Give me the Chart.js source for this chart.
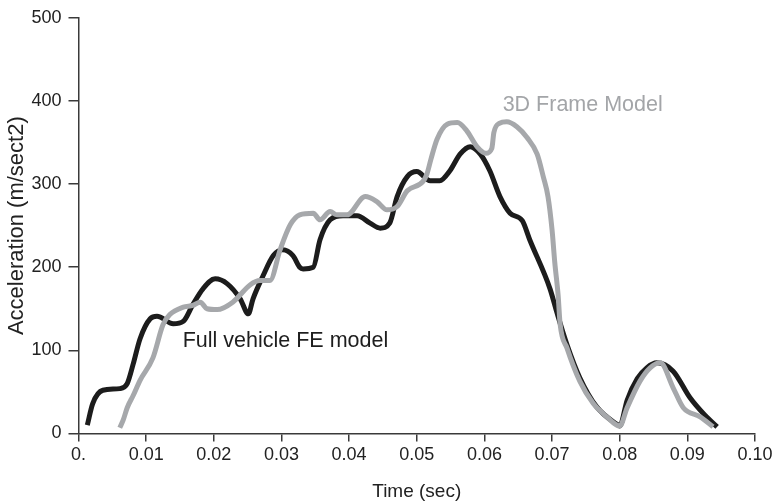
<!DOCTYPE html>
<html>
<head>
<meta charset="utf-8">
<script src="https://cdn.jsdelivr.net/npm/chart.js@4"></script>
<style>
  html, body { margin: 0; padding: 0; background: #fff; }
  #wrap { width: 780px; height: 503px; }
</style>
</head>
<body>
<div id="wrap"><canvas id="c" width="780" height="503"></canvas></div>
<script>
// Full vehicle FE model: time (s) and acceleration (m/s^2)
const fullTime = [0.0013, 0.0021, 0.0036, 0.0061, 0.0072, 0.0081, 0.0091, 0.0106, 0.0116, 0.0140, 0.0155,
  0.0169, 0.0184, 0.0202, 0.0220, 0.0239, 0.0251, 0.0258, 0.0273, 0.0288, 0.0302, 0.0317, 0.0327,
  0.0332, 0.0347, 0.0357, 0.0372, 0.0391, 0.0412, 0.0431, 0.0446, 0.0460, 0.0471, 0.0486, 0.0500,
  0.0520, 0.0534, 0.0549, 0.0564, 0.0579, 0.0594, 0.0608, 0.0623, 0.0638, 0.0656, 0.0667, 0.0697,
  0.0707, 0.0722, 0.0741, 0.0766, 0.0796, 0.0800, 0.0811, 0.0826, 0.0840, 0.0855, 0.0879, 0.0904,
  0.0926, 0.0944];
const fullAccel = [10, 36, 52, 54, 60, 84, 114, 138, 141, 132, 135,
  155, 174, 186, 180, 162, 144, 162, 190, 214, 221, 214, 200,
  198, 200, 233, 257, 262, 262, 253, 247, 253, 285, 309, 315,
  304, 304, 316, 336, 345, 336, 316, 285, 265, 256, 233, 174,
  146, 107, 67, 32, 11, 9, 40, 66, 79, 85, 75, 43,
  22, 8];

// 3D Frame Model: time (s) and acceleration (m/s^2)
const frameTime = [0.0061, 0.0066, 0.0072, 0.0081, 0.0091, 0.0110, 0.0125, 0.0135, 0.0155, 0.0169, 0.0180,
  0.0190, 0.0205, 0.0228, 0.0254, 0.0268, 0.0283, 0.0298, 0.0313, 0.0327, 0.0347, 0.0357, 0.0372,
  0.0382, 0.0397, 0.0424, 0.0441, 0.0456, 0.0471, 0.0486, 0.0509, 0.0515, 0.0521, 0.0530, 0.0545,
  0.0560, 0.0574, 0.0589, 0.0602, 0.0611, 0.0614, 0.0622, 0.0633, 0.0648, 0.0663, 0.0678, 0.0687,
  0.0694, 0.0700, 0.0704, 0.0709, 0.0712, 0.0722, 0.0741, 0.0761, 0.0781, 0.0800, 0.0811, 0.0830,
  0.0845, 0.0860, 0.0879, 0.0894, 0.0919, 0.0938];
const frameAccel = [7, 16, 31, 46, 64, 91, 131, 143, 152, 154, 158,
  150, 149, 158, 179, 184, 184, 221, 251, 263, 265, 257, 267,
  263, 263, 285, 279, 269, 273, 292, 303, 312, 330, 354, 372,
  374, 364, 345, 337, 343, 362, 373, 375, 369, 356, 336, 309,
  285, 245, 206, 166, 131, 103, 63, 36, 20, 9, 31, 63,
  79, 85, 55, 31, 20, 8];

// Axis ticks
const xTickValues = [0, 0.01, 0.02, 0.03, 0.04, 0.05, 0.06, 0.07, 0.08, 0.09, 0.10];
const xTickLabels = ['0.', '0.01', '0.02', '0.03', '0.04', '0.05', '0.06', '0.07', '0.08', '0.09', '0.10'];
const yTickValues = [0, 100, 200, 300, 400, 500];
const yTickLabels = ['0', '100', '200', '300', '400', '500'];

// In-plot series labels (anchored in data units)
const seriesLabels = [
  { text: 'Full vehicle FE model', x: 0.0154, y: 111, color: '#1e1e1e' },
  { text: '3D Frame Model', x: 0.0627, y: 395, color: '#a3a5a8' }
];
const yTitle = 'Acceleration (m/sect2)';

const toPoints = (xs, ys) => xs.map((x, i) => ({ x, y: ys[i] }));

const FONT = '"Liberation Sans", Arial, Helvetica, sans-serif';
const AXIS = '#3a3a3a';

const labelPlugin = {
  id: 'seriesLabels',
  afterDatasetsDraw(chart) {
    const { ctx, scales } = chart;
    ctx.save();
    ctx.font = '21.5px ' + FONT;
    ctx.textBaseline = 'middle';
    ctx.textAlign = 'left';
    seriesLabels.forEach(l => {
      ctx.fillStyle = l.color;
      ctx.fillText(l.text, scales.x.getPixelForValue(l.x), scales.y.getPixelForValue(l.y));
    });
    ctx.restore();
  }
};

// Vertical axis title, centred on the plot height
const yTitlePlugin = {
  id: 'yTitle',
  afterDraw(chart) {
    const { ctx, chartArea } = chart;
    ctx.save();
    ctx.translate(17, (chartArea.top + chartArea.bottom) / 2);
    ctx.rotate(-Math.PI / 2);
    ctx.font = '22px ' + FONT;
    ctx.fillStyle = '#222';
    ctx.textAlign = 'center';
    ctx.textBaseline = 'middle';
    ctx.fillText(yTitle, 0, 0);
    ctx.restore();
  }
};

new Chart(document.getElementById('c'), {
  type: 'line',
  data: {
    datasets: [
      {
        label: 'Full vehicle FE model',
        data: toPoints(fullTime, fullAccel),
        borderColor: '#1c1c1c',
        borderWidth: 5,
        pointRadius: 0,
        cubicInterpolationMode: 'monotone',
        fill: false,
        order: 1
      },
      {
        label: '3D Frame Model',
        data: toPoints(frameTime, frameAccel),
        borderColor: '#a6a8ab',
        borderWidth: 5,
        pointRadius: 0,
        cubicInterpolationMode: 'monotone',
        fill: false,
        order: 0
      }
    ]
  },
  options: {
    responsive: false,
    animation: false,
    layout: { padding: { top: 12, right: 25, left: 0, bottom: 0 } },
    plugins: { legend: { display: false }, tooltip: { enabled: false } },
    scales: {
      x: {
        type: 'linear',
        min: 0,
        max: 0.10,
        afterBuildTicks(scale) { scale.ticks = xTickValues.map(v => ({ value: v })); },
        afterFit(scale) { scale.height = 69.5; },
        ticks: {
          color: '#222',
          font: { family: FONT, size: 18 },
          padding: 3,
          maxRotation: 0,
          autoSkip: false,
          callback: (v) => { const i = xTickValues.findIndex(t => Math.abs(t - v) < 1e-9); return i >= 0 ? xTickLabels[i] : ''; }
        },
        grid: { drawOnChartArea: false, tickLength: 8, color: AXIS, lineWidth: 1.5 },
        border: { color: AXIS, width: 1.5 },
        title: { display: true, text: 'Time (sec)', color: '#222', font: { family: FONT, size: 19 }, padding: { top: 10, bottom: 0 } }
      },
      y: {
        min: 0,
        max: 500,
        afterBuildTicks(scale) { scale.ticks = yTickValues.map(v => ({ value: v })); },
        afterFit(scale) { scale.width = 78.5; },
        ticks: {
          color: '#222',
          font: { family: FONT, size: 18 },
          padding: 7,
          autoSkip: false,
          callback: (v) => { const i = yTickValues.indexOf(v); return i >= 0 ? yTickLabels[i] : ''; }
        },
        grid: { drawOnChartArea: false, tickLength: 10, color: AXIS, lineWidth: 1.5 },
        border: { color: AXIS, width: 1.5 },
        title: { display: false }
      }
    }
  },
  plugins: [labelPlugin, yTitlePlugin]
});
</script>
</body>
</html>
